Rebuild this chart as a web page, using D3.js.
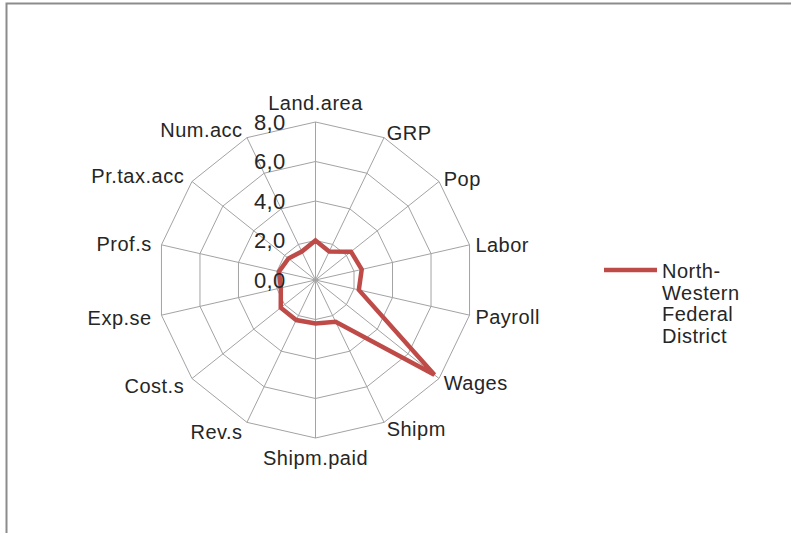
<!DOCTYPE html>
<html>
<head>
<meta charset="utf-8">
<script src="https://cdn.jsdelivr.net/npm/d3@7"></script>
<style>
html,body{margin:0;padding:0;background:#fff;}
svg{display:block;}
text{font-family:"Liberation Sans",Arial,sans-serif;fill:#262626;}
</style>
</head>
<body>
<svg id="chart" width="791" height="533"></svg>
<script>
const categories = ["Land.area","GRP","Pop","Labor","Payroll","Wages","Shipm","Shipm.paid","Rev.s","Cost.s","Exp.se","Prof.s","Pr.tax.acc","Num.acc"];
const seriesName = "North-Western Federal District";
const legendLines = ["North-","Western","Federal","District"];
const values = [2.0, 1.6, 2.3, 2.4, 2.25, 7.7, 2.35, 2.2, 2.25, 2.25, 1.8, 1.9, 1.75, 1.6];
const tickValues = [0, 2, 4, 6, 8];
const tickLabels = ["0,0","2,0","4,0","6,0","8,0"];

const svg = d3.select("#chart");
const W = 791, H = 533;
const cx = 315.5, cy = 280, R = 158;
const gridColor = "#a3a3a3";
const seriesColor = "#be4b48";

// frame
svg.append("rect").attr("x",6.5).attr("y",3.5).attr("width",W+20).attr("height",H+20)
  .attr("fill","#fff").attr("stroke","#8c8c8c").attr("stroke-width",2);

const r = d3.scaleLinear().domain([0, 8]).range([0, R]);
const angle = d3.scalePoint().domain(categories.concat(["_end"])).range([0, 2*Math.PI]);
const pt = (cat, v) => {
  const a = angle(cat);
  return [cx + r(v)*Math.sin(a), cy - r(v)*Math.cos(a)];
};

const g = svg.append("g");

// grid polygons
tickValues.filter(t => t > 0).forEach(t => {
  g.append("path")
    .attr("d", d3.line()(categories.map(c => pt(c, t))) + "Z")
    .attr("fill","none").attr("stroke",gridColor).attr("stroke-width",1);
});
// spokes
categories.forEach(c => {
  const [x,y] = pt(c, 8);
  g.append("line").attr("x1",cx).attr("y1",cy).attr("x2",x).attr("y2",y)
    .attr("stroke",gridColor).attr("stroke-width",1);
});

// category labels
categories.forEach(c => {
  const a = angle(c);
  const s = Math.sin(a), co = Math.cos(a);
  const off = s < -0.1 ? 10 : 6;
  const x = cx + (R+off)*s, y = cy - (R+off)*co;
  let anchor = "middle", dy = 8;
  if (s > 0.1) anchor = "start";
  else if (s < -0.1) anchor = "end";
  else dy = co > 0 ? -6 : 21;
  g.append("text").attr("x",x).attr("y",y+dy).attr("text-anchor",anchor)
    .attr("font-size",20).attr("letter-spacing",0.5).text(c);
});

// series
g.append("path")
  .attr("d", d3.line()(categories.map((c,i) => pt(c, values[i]))) + "Z")
  .attr("fill","none").attr("stroke",seriesColor).attr("stroke-width",4.5)
  .attr("stroke-linejoin","miter");

// tick labels
tickValues.forEach((t,i) => {
  g.append("text").attr("x",cx-30).attr("y",cy - r(t))
    .attr("dy","0.36em").attr("text-anchor","end")
    .attr("font-size",22).attr("letter-spacing",0.3).text(tickLabels[i]);
});

// legend
const lg = svg.append("g").attr("transform","translate(604,270)");
lg.append("line").attr("x1",0).attr("y1",0).attr("x2",53).attr("y2",0)
  .attr("stroke",seriesColor).attr("stroke-width",4.5);
lg.append("text").attr("x",58).attr("y",8).attr("font-size",20).attr("letter-spacing",0.5)
  .selectAll("tspan").data(legendLines).join("tspan")
  .attr("x",58).attr("dy",(d,i)=> i===0?0:21.5).text(d=>d);
</script>
</body>
</html>
